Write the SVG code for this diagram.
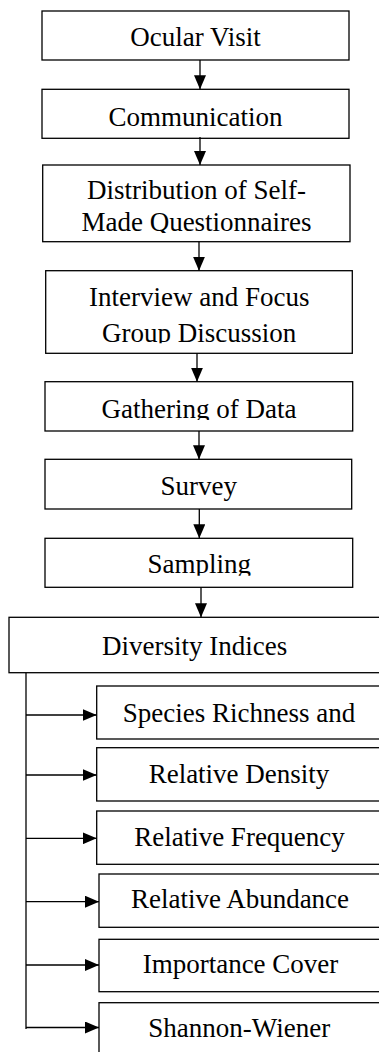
<svg xmlns="http://www.w3.org/2000/svg" width="379" height="1052" viewBox="0 0 379 1052">
<style>
.box{fill:#fff;stroke:#000;stroke-width:1.3}
.lbl{font-family:"Liberation Serif","Times New Roman",serif;font-size:27px;fill:#000;text-anchor:middle}
.con{stroke:#000;stroke-width:1.3;fill:none}
.arr{marker-end:url(#ah)}
</style>
<defs>
<marker id="ah" markerUnits="userSpaceOnUse" markerWidth="14" markerHeight="12" viewBox="0 0 14 12" refX="14" refY="6" orient="auto">
<path d="M0,0 L14,6 L0,12 Z" fill="#000"/>
</marker>
<clipPath id="c3"><rect x="40" y="160" width="315" height="73"/></clipPath>
<clipPath id="c4"><rect x="40" y="265" width="315" height="78.3"/></clipPath>
<clipPath id="c5"><rect x="40" y="380" width="315" height="40"/></clipPath>
<clipPath id="c7"><rect x="40" y="535" width="315" height="40.7"/></clipPath>
</defs>
<rect width="379" height="1052" fill="#fff"/>
<g id="n1"><rect class="box" x="42" y="11" width="307" height="49"/><text class="lbl" x="195.5" y="45.7">Ocular Visit</text></g>
<g id="n2"><rect class="box" x="42" y="89.3" width="307" height="49"/><text class="lbl" x="195.5" y="126">Communication</text></g>
<g id="n3"><rect class="box" x="42.7" y="165" width="307.3" height="76.7"/><g clip-path="url(#c3)"><text class="lbl" x="196.5" y="199.3">Distribution of Self-</text><text class="lbl" x="196.5" y="231.3">Made Questionnaires</text></g></g>
<g id="n4"><rect class="box" x="45.7" y="270.7" width="306.6" height="82.6"/><g clip-path="url(#c4)"><text class="lbl" x="199.2" y="305.7">Interview and Focus</text><text class="lbl" x="199.2" y="342">Group Discussion</text></g></g>
<g id="n5"><rect class="box" x="45" y="381.7" width="307.7" height="49.3"/><text class="lbl" x="199" y="417.5" clip-path="url(#c5)">Gathering of Data</text></g>
<g id="n6"><rect class="box" x="45" y="459.3" width="306.7" height="49.7"/><text class="lbl" x="198.7" y="495">Survey</text></g>
<g id="n7"><rect class="box" x="45" y="538.3" width="307.7" height="49"/><text class="lbl" x="199.2" y="573.3" clip-path="url(#c7)">Sampling</text></g>
<g id="n8"><rect class="box" x="9" y="617.3" width="371" height="55.4"/><text class="lbl" x="194.7" y="655">Diversity Indices</text></g>
<g id="n9"><rect class="box" x="96.7" y="686" width="284.3" height="53"/><text class="lbl" x="239" y="721.7">Species Richness and</text></g>
<g id="n10"><rect class="box" x="96.7" y="747.7" width="284.3" height="53.3"/><text class="lbl" x="239" y="783.3">Relative Density</text></g>
<g id="n11"><rect class="box" x="96.7" y="811" width="284.3" height="53.3"/><text class="lbl" x="239.5" y="846">Relative Frequency</text></g>
<g id="n12"><rect class="box" x="99" y="874" width="282" height="53.3"/><text class="lbl" x="240" y="908.3">Relative Abundance</text></g>
<g id="n13"><rect class="box" x="99" y="939.3" width="282" height="52.4"/><text class="lbl" x="240.5" y="973.3">Importance Cover</text></g>
<g id="n14"><rect class="box" x="99" y="1002.7" width="282" height="60"/><text class="lbl" x="239.2" y="1036.7">Shannon-Wiener</text></g>
<g id="connectors">
<line class="con arr" x1="200" y1="60" x2="200" y2="89.3"/>
<line class="con arr" x1="200" y1="137" x2="200" y2="165"/>
<line class="con arr" x1="199" y1="241.7" x2="199" y2="270.7"/>
<line class="con arr" x1="197" y1="353.3" x2="197" y2="381.7"/>
<line class="con arr" x1="199" y1="431" x2="199" y2="459.3"/>
<line class="con arr" x1="199.3" y1="509" x2="199.3" y2="538.3"/>
<line class="con arr" x1="201" y1="587.3" x2="201" y2="617.3"/>
<line class="con" x1="26" y1="672.7" x2="26" y2="1029"/>
<line class="con arr" x1="26" y1="715" x2="96.7" y2="715"/>
<line class="con arr" x1="26" y1="775" x2="96.7" y2="775"/>
<line class="con arr" x1="26" y1="838.3" x2="96.7" y2="838.3"/>
<line class="con arr" x1="26" y1="901.7" x2="99" y2="901.7"/>
<line class="con arr" x1="26" y1="965" x2="99" y2="965"/>
<line class="con arr" x1="26" y1="1027.5" x2="99" y2="1027.5"/>
</g>
</svg>
